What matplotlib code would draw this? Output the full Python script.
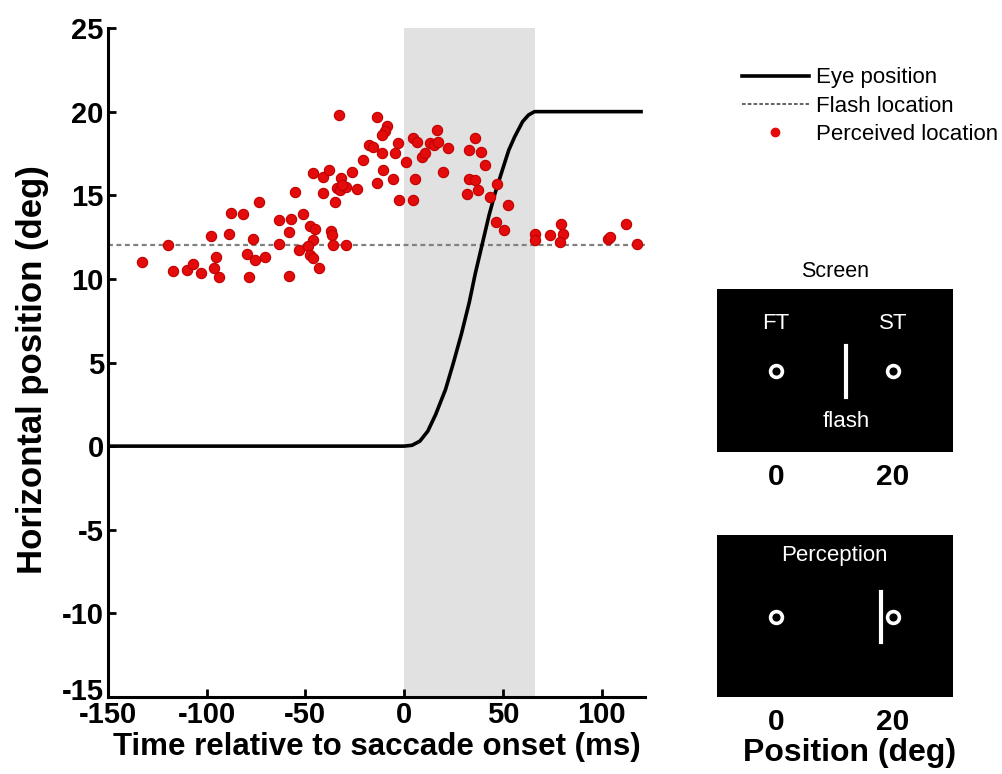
import matplotlib
matplotlib.use("Agg")
import matplotlib.pyplot as plt
from matplotlib.lines import Line2D
from matplotlib.transforms import ScaledTranslation

plt.rcParams['font.family'] = ['Liberation Sans', 'DejaVu Sans']
plt.rcParams['axes.unicode_minus'] = False

# ---------------- data ----------------
eye_t = [-150, 0, 4, 8, 12, 16, 21, 25, 29, 33, 36, 40, 43, 46, 50, 53, 56, 60, 63, 66, 120]
eye_pos = [0, 0, 0.05, 0.3, 0.9, 1.9, 3.4, 5.0, 6.7, 8.6, 10.3, 12.3, 13.8, 15.1, 16.6, 17.7, 18.5, 19.4, 19.8, 20.0, 20.0]

flash_loc = 12
saccade_window = [0, 66.5]

perc_t = [-132.6, -119.5, -117.2, -110.2, -107.1, -102.7, -98.0, -95.1, -96.2, -93.6,
          -88.8, -87.8, -81.7, -79.7, -75.6, -70.6, -78.7, -76.7, -73.6, -63.5,
          -63.4, -57.4, -58.5, -58.4, -55.2, -53.5, -51.1, -47.9, -45.3, -46.0,
          -48.6, -47.5, -46.4, -43.1, -37.1, -36.7, -35.8, -29.7, -41.2, -35.0,
          -46.3, -41.2, -38.1, -32.1, -34.2, -32.5, -29.7, -31.3, -26.5, -23.7,
          -33.1, -20.7, -17.6, -15.6, -13.9, -11.4, -10.5, -13.9, -8.8, -9.9,
          -11.1, -4.6, -3.0, -5.4, -2.7, 4.6, 0.8, 4.7, 6.4, 5.6,
          9.0, 10.7, 13.2, 15.0, 17.4, 16.6, 22.0, 19.6, 36.0, 33.1,
          38.9, 41.1, 33.1, 36.0, 31.8, 37.4, 43.3, 47.2, 52.4, 46.3,
          50.4, 66.3, 66.5, 74.1, 79.5, 80.5, 78.8, 103.2, 104.2, 112.2,
          118.2]
perc_pos = [11.0, 12.0, 10.45, 10.55, 10.9, 10.35, 12.55, 11.3, 10.65, 10.1,
            12.7, 13.95, 13.9, 11.5, 11.15, 11.3, 10.1, 12.4, 14.6, 12.1,
            13.5, 13.6, 12.8, 10.2, 15.2, 11.75, 13.9, 13.15, 13.0, 12.35,
            11.95, 11.4, 11.25, 10.65, 12.85, 12.6, 12.0, 12.0, 15.15, 14.6,
            16.35, 16.1, 16.5, 16.05, 15.45, 15.3, 15.5, 15.6, 16.4, 15.4,
            19.8, 17.1, 18.0, 17.9, 19.7, 17.5, 16.5, 15.75, 19.15, 18.85,
            18.6, 17.5, 18.15, 16.0, 14.7, 14.7, 17.0, 18.4, 18.2, 16.0,
            17.3, 17.5, 18.1, 18.0, 18.2, 18.9, 17.8, 16.4, 18.4, 17.7,
            17.6, 16.8, 16.0, 15.9, 15.1, 15.3, 14.9, 15.7, 14.4, 13.4,
            12.9, 12.7, 12.3, 12.6, 13.3, 12.7, 12.2, 12.4, 12.5, 13.3,
            12.1]

x_ticks = [-150, -100, -50, 0, 50, 100]
y_ticks = [-15, -10, -5, 0, 5, 10, 15, 20, 25]

target_pos = [0, 20]          # FT, ST
target_labels = ['FT', 'ST']
flash_screen = 12
flash_perceived = 18

# ---------------- figure ----------------
fig = plt.figure(figsize=(10.02, 7.74), dpi=100)
ax = fig.add_axes([0.1078, 0.0995, 0.5359, 0.8643])

ax.axvspan(saccade_window[0], saccade_window[1], color='#e1e1e1', lw=0, zorder=0)
ax.axhline(flash_loc, color='#808080', lw=1.6, ls=(0, (2.2, 1.6)), zorder=1)
ax.plot(eye_t, eye_pos, color='black', lw=2.6, zorder=2)
ax.scatter(perc_t, perc_pos, s=55, color='#e30b0b', edgecolor='#c00000', linewidth=0.8, zorder=3)

ax.set_xlim(-150, 122)
ax.set_ylim(-15, 25)
ax.set_xticks(x_ticks)
ax.set_yticks(y_ticks)
for s in ['top', 'right']:
    ax.spines[s].set_visible(False)
for s in ['left', 'bottom']:
    ax.spines[s].set_linewidth(2.2)
ax.tick_params(direction='in', length=6, width=2, labelsize=21, pad=3)
for lab in ax.get_xticklabels() + ax.get_yticklabels():
    lab.set_fontweight('bold')
# nudge the lowest y tick label up a little so it does not collide with "-150"
ylabs = ax.get_yticklabels()
ylabs[0].set_transform(ylabs[0].get_transform() + ScaledTranslation(0, 6 / 72, fig.dpi_scale_trans))

ax.set_xlabel('Time relative to saccade onset (ms)', fontsize=22.5, fontweight='bold')
ax.set_ylabel('Horizontal position (deg)', fontsize=25, fontweight='bold')
ax.xaxis.set_label_coords(0.5, -0.053)
ax.yaxis.set_label_coords(-0.11, 0.49)

# legend
handles = [Line2D([], [], color='black', lw=2.6),
           Line2D([], [], color='#555555', lw=1.3, ls=(0, (2, 1.2))),
           Line2D([], [], color='#e30b0b', marker='o', ls='none', markersize=6)]
fig.legend(handles, ['Eye position', 'Flash location', 'Perceived location'],
           loc='upper left', bbox_to_anchor=(0.7405, 0.913), frameon=False,
           fontsize=16, handlelength=3.0, handletextpad=0.35, labelspacing=0.33,
           borderaxespad=0, borderpad=0)

# insets
def make_box(rect):
    a = fig.add_axes(rect)
    a.set_facecolor('black')
    a.set_xlim(-10.1, 30.3)
    a.set_ylim(0, 1)
    for s in a.spines.values():
        s.set_visible(False)
    a.set_yticks([])
    a.set_xticks(target_pos)
    a.set_xticklabels([str(p) for p in target_pos], fontsize=21.5, fontweight='bold')
    a.tick_params(axis='x', length=0, pad=8)
    return a

ax1 = make_box([0.7156, 0.416, 0.2355, 0.210])
ax1.set_title('Screen', fontsize=15.5, pad=9)
ax1.plot(target_pos, [0.5, 0.5], ls='none', marker='o', markersize=8.5, markerfacecolor='black',
         markeredgecolor='white', markeredgewidth=2.6)
for p, lab in zip(target_pos, target_labels):
    ax1.text(p, 0.79, lab, color='white', fontsize=16, ha='center', va='center')
ax1.plot([flash_screen, flash_screen], [0.34, 0.65], color='white', lw=3)
ax1.text(flash_screen, 0.19, 'flash', color='white', fontsize=16, ha='center', va='center')

ax2 = make_box([0.7156, 0.0995, 0.2355, 0.209])
ax2.plot(target_pos, [0.494, 0.494], ls='none', marker='o', markersize=8.5, markerfacecolor='black',
         markeredgecolor='white', markeredgewidth=2.6)
ax2.plot([flash_perceived, flash_perceived], [0.342, 0.65], color='white', lw=3)
ax2.text(10, 0.877, 'Perception', color='white', fontsize=16, ha='center', va='center')
ax2.set_xlabel('Position (deg)', fontsize=23, fontweight='bold')
ax2.xaxis.set_label_coords(0.56, -0.255)

fig.savefig('out.png', dpi=100)
